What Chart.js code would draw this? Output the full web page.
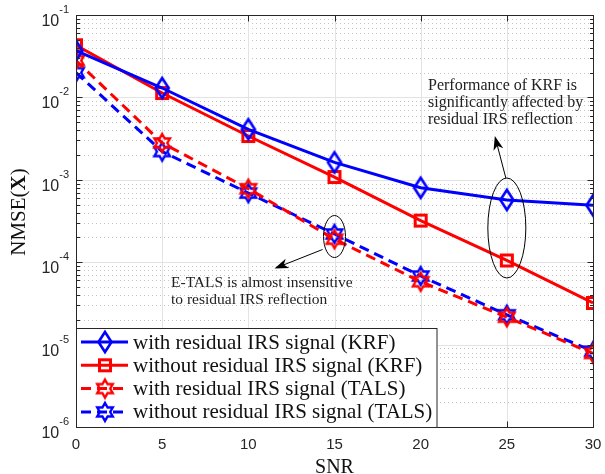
<!DOCTYPE html>
<html>
<head>
<meta charset="utf-8">
<script src="https://cdn.jsdelivr.net/npm/chart.js@4"></script>
<style>
  html, body { margin: 0; padding: 0; background: #fff; }
</style>
</head>
<body>
<canvas id="nmseChart" width="605" height="474"></canvas>
<script>
// data
const snr = [0, 5, 10, 15, 20, 25, 30];
const krfWithResidual = [0.037, 0.0130, 0.0041, 0.00163, 0.00080, 0.00057, 0.00049];
const krfWithoutResidual = [0.043, 0.0113, 0.0034, 0.00108, 0.00032, 0.000105, 0.000032];
const talsWithResidual = [0.028, 0.0028, 0.00078, 0.00019, 0.000058, 0.0000215, 0.0000078];
const talsWithoutResidual = [0.020, 0.0022, 0.00069, 0.00022, 0.000068, 0.0000230, 0.0000083];
const seriesLabels = [
    'with residual IRS signal (KRF)',
    'without residual IRS signal (KRF)',
    'with residual IRS signal (TALS)',
    'without residual IRS signal (TALS)'
];
const xTicks = [0, 5, 10, 15, 20, 25, 30];
const yDecades = [-6, -5, -4, -3, -2, -1];

const BLUE = '#0000ff';
const RED = '#ff0000';
const AXIS = '#262626';
const SERIF = '"Liberation Serif", "DejaVu Serif", serif';
const SANS = '"Liberation Sans", Arial, sans-serif';

// marker images (MATLAB-ish diamond / hexagram)
function makeMarker(kind, color) {
    const c = document.createElement('canvas');
    c.width = 28; c.height = 28;
    const g = c.getContext('2d');
    g.strokeStyle = color;
    g.lineJoin = 'miter';
    g.beginPath();
    if (kind === 'diamond') {
        g.lineWidth = 2.6;
        g.moveTo(14, 4); g.lineTo(20.5, 14); g.lineTo(14, 24); g.lineTo(7.5, 14);
        g.closePath();
    } else if (kind === 'square') {
        g.lineWidth = 3;
        g.rect(8.5, 8.5, 11, 11);
    } else {
        g.lineWidth = 2.4;
        const R = 9, r = R / Math.sqrt(3);
        for (let k = 0; k < 12; k++) {
            const a = -Math.PI / 2 + k * Math.PI / 6;
            const rad = k % 2 === 0 ? R : r;
            const px = 14 + rad * Math.cos(a), py = 14 + rad * Math.sin(a);
            if (k === 0) g.moveTo(px, py); else g.lineTo(px, py);
        }
        g.closePath();
    }
    g.stroke();
    return c;
}

const markers = [
    makeMarker('diamond', BLUE),
    makeMarker('square', RED),
    makeMarker('hexagram', RED),
    makeMarker('hexagram', BLUE)
];
const colors = [BLUE, RED, RED, BLUE];
const dashes = [[], [], [10, 6], [10, 6]];
const seriesData = [krfWithResidual, krfWithoutResidual, talsWithResidual, talsWithoutResidual];

function arrow(ctx, x1, y1, x2, y2) {
    const ang = Math.atan2(y2 - y1, x2 - x1);
    const L = 14, W = 5;
    const bx = x2 - L * Math.cos(ang), by = y2 - L * Math.sin(ang);
    ctx.beginPath();
    ctx.moveTo(x1, y1);
    ctx.lineTo(bx + 4 * Math.cos(ang), by + 4 * Math.sin(ang));
    ctx.stroke();
    ctx.beginPath();
    ctx.moveTo(x2, y2);
    ctx.lineTo(bx - W * Math.sin(ang), by + W * Math.cos(ang));
    ctx.lineTo(bx + 4 * Math.cos(ang), by + 4 * Math.sin(ang));
    ctx.lineTo(bx + W * Math.sin(ang), by - W * Math.cos(ang));
    ctx.closePath();
    ctx.fill();
}

const matlabFrame = {
    id: 'matlabFrame',
    beforeDraw(chart) {
        const ctx = chart.ctx;
        ctx.save();
        ctx.fillStyle = '#fff';
        ctx.fillRect(0, 0, chart.width, chart.height);
        ctx.restore();
    },
    beforeDatasetsDraw(chart) {
        const ctx = chart.ctx, a = chart.chartArea;
        const xs = chart.scales.x, ys = chart.scales.y;
        ctx.save();
        // minor dotted grid
        ctx.strokeStyle = '#c4c4c4';
        ctx.lineWidth = 1;
        ctx.setLineDash([1, 3]);
        yDecades.forEach(d => {
            for (let m = 2; m <= 9; m++) {
                const v = m * Math.pow(10, d);
                if (v > 0.1) continue;
                const py = Math.round(ys.getPixelForValue(v)) + 0.5;
                ctx.beginPath(); ctx.moveTo(a.left, py); ctx.lineTo(a.right, py); ctx.stroke();
            }
        });
        // major grid
        ctx.setLineDash([]);
        ctx.strokeStyle = '#e3e3e3';
        xTicks.forEach(t => {
            const px = Math.round(xs.getPixelForValue(t)) + 0.5;
            ctx.beginPath(); ctx.moveTo(px, a.top); ctx.lineTo(px, a.bottom); ctx.stroke();
        });
        yDecades.forEach(d => {
            const py = Math.round(ys.getPixelForValue(Math.pow(10, d))) + 0.5;
            ctx.beginPath(); ctx.moveTo(a.left, py); ctx.lineTo(a.right, py); ctx.stroke();
        });
        ctx.restore();
    },
    afterDatasetsDraw(chart) {
        const ctx = chart.ctx, a = chart.chartArea;
        const xs = chart.scales.x, ys = chart.scales.y;
        ctx.save();

        // annotations
        ctx.strokeStyle = '#000';
        ctx.fillStyle = '#000';
        ctx.lineWidth = 1;
        const ex = xs.getPixelForValue(25), ey = ys.getPixelForValue(2.6e-4);
        ctx.beginPath(); ctx.ellipse(ex, ey, 19, 50, 0, 0, Math.PI * 2); ctx.stroke();
        arrow(ctx, ex - 1, ey - 50, ex - 12, ey - 92);
        const sx = xs.getPixelForValue(15), sy = ys.getPixelForValue(2.05e-4);
        ctx.beginPath(); ctx.ellipse(sx, sy, 11, 21, 0, 0, Math.PI * 2); ctx.stroke();
        arrow(ctx, sx - 12, sy + 13, sx - 60, sy + 32);

        ctx.fillStyle = '#222';
        ctx.textAlign = 'left';
        ctx.textBaseline = 'middle';
        ctx.font = '16px ' + SERIF;
        ctx.fillText('Performance of KRF is', 428, 86);
        ctx.fillText('significantly affected by', 428, 103);
        ctx.fillText('residual IRS reflection', 428, 120);
        ctx.font = '15.5px ' + SERIF;
        ctx.fillText('E-TALS is almost insensitive', 171, 283);
        ctx.fillText('to residual IRS reflection', 171, 300);

        // axes box and inside ticks
        ctx.strokeStyle = AXIS;
        ctx.lineWidth = 1;
        const L = Math.round(a.left) + 0.5, R = Math.round(a.right) + 0.5;
        const T = Math.round(a.top) + 0.5, B = Math.round(a.bottom) + 0.5;
        ctx.strokeRect(L, T, R - L, B - T);
        ctx.beginPath();
        xTicks.forEach(t => {
            const px = Math.round(xs.getPixelForValue(t)) + 0.5;
            ctx.moveTo(px, B); ctx.lineTo(px, B - 6);
            ctx.moveTo(px, T); ctx.lineTo(px, T + 6);
        });
        yDecades.forEach(d => {
            for (let m = 1; m <= 9; m++) {
                const v = m * Math.pow(10, d);
                if (v > 0.1) continue;
                const len = m === 1 ? 6 : 3.5;
                const py = Math.round(ys.getPixelForValue(v)) + 0.5;
                ctx.moveTo(L, py); ctx.lineTo(L + len, py);
                ctx.moveTo(R, py); ctx.lineTo(R - len, py);
            }
        });
        ctx.stroke();

        // y tick labels 10^k
        ctx.fillStyle = AXIS;
        ctx.textBaseline = 'alphabetic';
        yDecades.forEach(d => {
            const py = ys.getPixelForValue(Math.pow(10, d));
            const exp = String(d);
            ctx.font = '11px ' + SANS;
            const ew = ctx.measureText(exp).width;
            ctx.textAlign = 'right';
            ctx.fillText(exp, a.left - 7, py - 2);
            ctx.font = '16px ' + SANS;
            ctx.fillText('10', a.left - 7 - ew, py + 11);
        });

        // axis titles
        ctx.fillStyle = '#111';
        ctx.font = '20px ' + SERIF;
        ctx.textAlign = 'center';
        ctx.textBaseline = 'alphabetic';
        ctx.fillText('SNR', (a.left + a.right) / 2, 473);

        ctx.save();
        ctx.translate(25, 212);
        ctx.rotate(-Math.PI / 2);
        const p1 = 'NMSE(', p2 = 'X', p3 = ')';
        ctx.font = '21px ' + SERIF;
        const w1 = ctx.measureText(p1).width, w3 = ctx.measureText(p3).width;
        ctx.font = 'bold 21px ' + SERIF;
        const w2 = ctx.measureText(p2).width;
        let x0 = -(w1 + w2 + w3) / 2;
        ctx.textAlign = 'left';
        ctx.font = '21px ' + SERIF;
        ctx.fillText(p1, x0, 0);
        ctx.font = 'bold 21px ' + SERIF;
        ctx.fillText(p2, x0 + w1, 0);
        ctx.font = '21px ' + SERIF;
        ctx.fillText(p3, x0 + w1 + w2, 0);
        ctx.restore();

        // legend box
        const lx = L, ly = 328.5, lw = 437 - L, lh = B - ly;
        ctx.fillStyle = '#fff';
        ctx.fillRect(lx, ly, lw, lh);
        ctx.strokeStyle = AXIS;
        ctx.strokeRect(lx, ly, lw, lh);
        ctx.font = '21px ' + SERIF;
        ctx.textAlign = 'left';
        ctx.textBaseline = 'middle';
        seriesLabels.forEach((lab, i) => {
            const yy = 342 + i * 23.3;
            ctx.strokeStyle = colors[i];
            ctx.lineWidth = 3;
            ctx.setLineDash(dashes[i]);
            ctx.beginPath(); ctx.moveTo(81, yy); ctx.lineTo(128, yy); ctx.stroke();
            ctx.setLineDash([]);
            ctx.drawImage(markers[i], 105 - 14, yy - 14);
            ctx.fillStyle = '#111';
            ctx.fillText(lab, 133, yy + 1);
        });
        ctx.restore();
    }
};

new Chart(document.getElementById('nmseChart'), {
    type: 'line',
    data: {
        labels: snr,
        datasets: seriesData.map((vals, i) => ({
            label: seriesLabels[i],
            data: snr.map((s, j) => ({ x: s, y: vals[j] })),
            borderColor: colors[i],
            backgroundColor: colors[i],
            borderWidth: 3,
            borderDash: dashes[i],
            pointStyle: markers[i],
            pointRadius: 9,
            fill: false,
            tension: 0
        }))
    },
    options: {
        responsive: false,
        animation: false,
        events: [],
        layout: { padding: { top: 15, right: 7, left: 0, bottom: 0 } },
        plugins: {
            legend: { display: false },
            tooltip: { enabled: false }
        },
        scales: {
            x: {
                type: 'linear',
                min: 0,
                max: 30,
                grid: { display: false, drawTicks: false },
                border: { display: false },
                ticks: {
                    stepSize: 5,
                    padding: 9,
                    color: AXIS,
                    font: { family: SANS, size: 15 },
                    maxRotation: 0
                },
                afterFit(scale) {
                    scale.height = 47;
                    scale.paddingLeft = 0;
                    scale.paddingRight = 0;
                }
            },
            y: {
                type: 'logarithmic',
                min: 1e-6,
                max: 1e-1,
                grid: { display: false },
                border: { display: false },
                ticks: { display: false },
                afterFit(scale) { scale.width = 76; }
            }
        }
    },
    plugins: [matlabFrame]
});
</script>
</body>
</html>
